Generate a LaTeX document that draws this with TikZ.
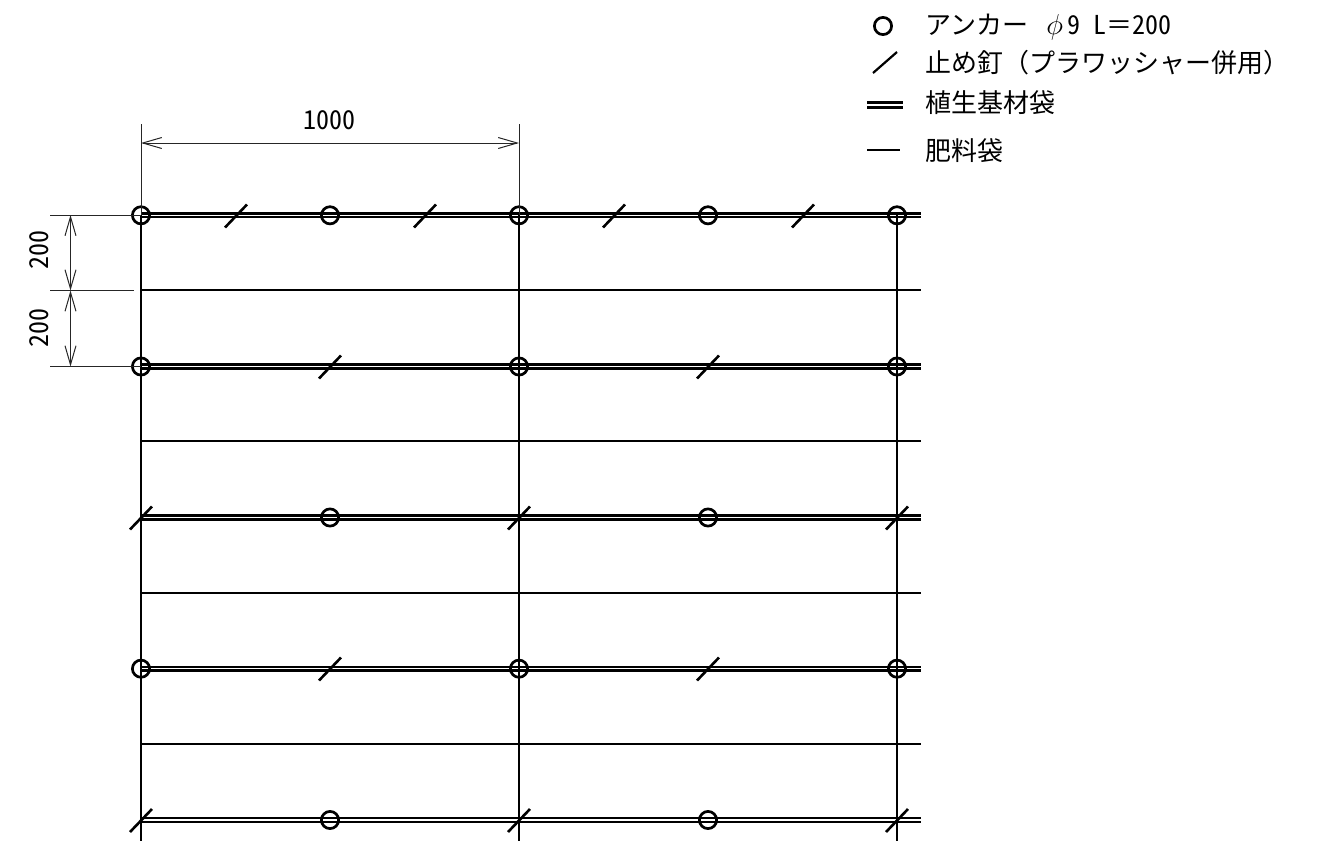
\documentclass[tikz,border=0pt]{standalone}
\usepackage{fontspec}
\setmainfont{Noto Sans CJK JP}
\newfontfamily\halffont[RawFeature={+hwid}]{Noto Sans CJK JP}
\usetikzlibrary{arrows.meta}
\tikzset{
    bagline/.style={line width=1.3pt},
    dimline/.style={line width=0.5pt, black!85},
    dimarrow/.style={dimline, {Straight Barb[length=9.5pt, width=5.5pt, line width=0.5pt]}-{Straight Barb[length=9.5pt, width=5.5pt, line width=0.5pt]}},
    anchorpin/.style={circle, draw, line width=1.35pt, fill=none, minimum size=8.6pt, inner sep=0pt},
    keylabel/.style={font=\fontsize{13}{15}\selectfont, anchor=base west, inner sep=0pt},
    dimlabel/.style={font=\fontsize{13}{15}\selectfont\halffont, inner sep=0pt},
    doublebag/.style={double, double distance=0.75pt, line width=1.2pt}
}
% clou : petit trait oblique
\newcommand{\nail}[2]{\draw[bagline] (#1-11,#2+12) -- (#1+11,#2-11);}
\begin{document}
\begin{tikzpicture}[x=0.5pt, y=-0.5pt]
    \useasboundingbox (0,0) rectangle (1320,841);

    % Sacs doubles
    \draw[doublebag] (141,215.3) -- (921,215.3);
    \draw[doublebag] (141,366.5) -- (921,366.5);
    \draw[doublebag] (141,517.5) -- (921,517.5);
    \draw[doublebag] (141,668.7) -- (921,668.7);
    \draw[doublebag] (141,820) -- (921,820);

    % Sacs simples
    \draw[bagline] (141,290) -- (921,290);
    \draw[bagline] (141,441) -- (921,441);
    \draw[bagline] (141,593) -- (921,593);
    \draw[bagline] (141,744) -- (921,744);

    % Montants
    \draw[bagline] (141,215) -- (141,841);
    \draw[bagline] (519,215) -- (519,841);
    \draw[bagline] (897,215) -- (897,841);

    % Ancres
    \node[anchorpin] (pinAa) at (141,215.3) {};
    \node[anchorpin] (pinAb) at (330,215.3) {};
    \node[anchorpin] (pinAc) at (519,215.3) {};
    \node[anchorpin] (pinAd) at (708,215.3) {};
    \node[anchorpin] (pinAe) at (897,215.3) {};
    \node[anchorpin] (pinBa) at (141,366.5) {};
    \node[anchorpin] (pinBb) at (519,366.5) {};
    \node[anchorpin] (pinBc) at (897,366.5) {};
    \node[anchorpin] (pinCa) at (330,517.5) {};
    \node[anchorpin] (pinCb) at (708,517.5) {};
    \node[anchorpin] (pinDa) at (141,668.7) {};
    \node[anchorpin] (pinDb) at (519,668.7) {};
    \node[anchorpin] (pinDc) at (897,668.7) {};
    \node[anchorpin] (pinEa) at (330,820) {};
    \node[anchorpin] (pinEb) at (708,820) {};

    % Clous
    \nail{236}{215.5} \nail{425}{215.5} \nail{614}{215.5} \nail{803}{215.5}
    \nail{330}{366.5} \nail{708}{366.5}
    \nail{141}{517.5} \nail{519}{517.5} \nail{897}{517.5}
    \nail{330}{668.5} \nail{708}{668.5}
    \nail{141}{820} \nail{519}{820} \nail{897}{820}

    % Cotes
    \draw[dimline] (141,124) -- (141,215);
    \draw[dimline] (519,124) -- (519,215);
    \draw[dimline] (50,215) -- (141,215);
    \draw[dimline] (50,290.5) -- (134,290.5);
    \draw[dimline] (50,366.5) -- (141,366.5);
    \coordinate (dimW) at (141,143);
    \coordinate (dimE) at (519,143);
    \coordinate (dimA) at (70.5,215);
    \coordinate (dimB) at (70.5,290.5);
    \coordinate (dimC) at (70.5,366.5);
    \draw[dimarrow] (dimW) -- (dimE);
    \draw[dimarrow] (dimA) -- (dimB);
    \draw[dimarrow] (dimB) -- (dimC);
    \node[dimlabel] (widthlabel) at (329,120.5) {1000};
    \node[dimlabel, rotate=90] (heightA) at (39,250) {200};
    \node[dimlabel, rotate=90] (heightB) at (39,328) {200};

    % Legende
    \node[anchorpin] (keypin) at (883,26) {};
    \draw[line width=1.1pt] (873,73) -- (897,52);
    \draw[doublebag, double distance=1.3pt] (867,105) -- (903,105);
    \draw[bagline] (867,150) -- (900,150);
    \node[keylabel] (keyA) at (925,34.5) {アンカー\hspace{9pt}{\fontsize{15}{15}\selectfont$\phi$}\hspace{2pt}{\halffont 9 L}＝{\halffont 200}};
    \node[keylabel] (keyB) at (925,72.5) {止め釘（プラワッシャー併用）};
    \node[keylabel] (keyC) at (925,112.5) {植生基材袋};
    \node[keylabel] (keyD) at (925,160) {肥料袋};
\end{tikzpicture}
\end{document}
